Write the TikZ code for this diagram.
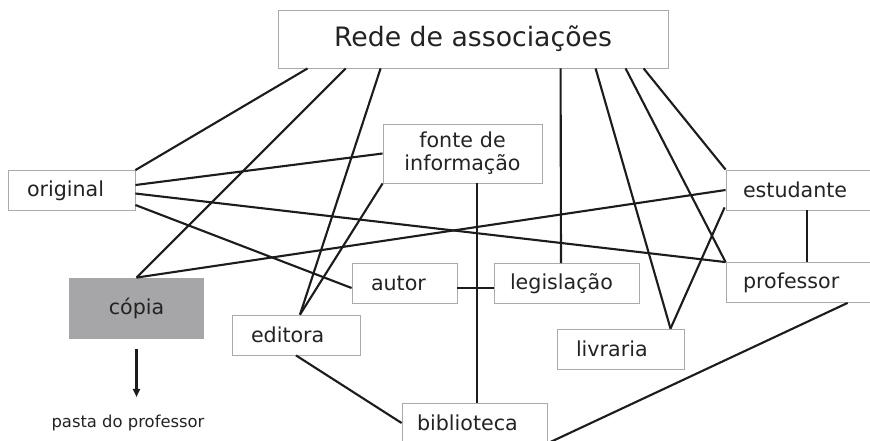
\documentclass[tikz,border=0pt]{standalone}
\usepackage{fontspec}
\setmainfont{DejaVu Sans}
\usepackage{tikz}
\usetikzlibrary{arrows.meta, calc}

\definecolor{boxgray}{RGB}{170,170,170}
\definecolor{linecol}{RGB}{28,28,28}
\definecolor{textcol}{RGB}{35,35,35}
\definecolor{copiafill}{RGB}{166,166,168}

\newcommand{\lblfont}{\fontsize{17.6}{19.6}\selectfont}
\newcommand{\titlefont}{\fontsize{22.8}{26}\selectfont}
\newcommand{\notefont}{\fontsize{14}{16}\selectfont}

\begin{document}
\begin{tikzpicture}[
    x=0.03cm, y=-0.03cm,
    box/.style={rectangle, draw=boxgray, line width=0.7pt, minimum height=1.2cm, inner ysep=0pt, font=\lblfont, text=textcol, align=left},
    lbox/.style 2 args={text width={(#1-2*#2)*0.03cm}, inner xsep={#2*0.03cm}}, % box width and left padding in px
    link/.style={line width=1.8pt, draw=linecol},
    arrow/.style={-{Triangle[length=7pt, width=6pt]}, line width=1.8pt, draw=linecol}
]
\useasboundingbox (0,0) rectangle (870,440);

% Top node
\node[box, minimum width=390*0.03cm, minimum height=58*0.03cm, font=\titlefont, align=center] (rede) at (473,39) {Rede de associações};

% Boxes
\node[box, lbox={159}{10}, minimum height=59*0.03cm, align=center] (fonte) at (462.5,153.5) {fonte de\\informação};
\node[box, lbox={127}{19}] (original) at (71.5,190.5) {original};
\node[box, lbox={154}{17}] (estudante) at (803,190) {estudante};
\node[box, lbox={105}{19}] (autor) at (404.5,283) {autor};
\node[box, lbox={145}{16}] (legislacao) at (566.5,283.5) {legislação};
\node[box, lbox={154}{17}] (professor) at (803,282.5) {professor};
\node[box, lbox={135}{10}, draw=none, fill=copiafill, minimum height=61*0.03cm, align=center] (copia) at (136.5,308.5) {cópia};
\node[box, lbox={128}{19}] (editora) at (296,335) {editora};
\node[box, lbox={127}{19}] (livraria) at (620.5,349) {livraria};
\node[box, lbox={145}{15}] (biblioteca) at (474.5,423) {biblioteca};

% Note under cópia
\node[font=\notefont, text=textcol, inner sep=0pt] (pasta) at (128,422.7) {pasta do professor};

% Links from the top node
\draw[link] ($(rede.south west)+(30,0)$) -- (original.north east);
\draw[link] ($(rede.south west)+(68,0)$) -- (copia.north);
\draw[link] ($(rede.south west)+(103,0)$) -- ($(editora.north)+(4,0)$);
\draw[link] ($(rede.south west)+(283,0)$) -- ($(legislacao.north)+(-5.5,0)$);
\draw[link] ($(rede.south west)+(318,0)$) -- ($(livraria.north)+(50,0)$);
\draw[link] ($(rede.south west)+(348,0)$) -- (professor.north west);
\draw[link] ($(rede.south west)+(366,0)$) -- (estudante.north west);

% Other links
\draw[link] ($(original.east)+(0,-5.5)$) -- (fonte.west);
\draw[link] ($(original.east)+(0,3)$) -- (professor.north west);
\draw[link] ($(original.east)+(0,14.5)$) -- ($(autor.west)+(0,5)$);
\draw[link] (fonte.south west) -- ($(editora.north)+(4,0)$);
\draw[link] ($(fonte.south)+(14.5,0)$) -- ($(biblioteca.north)+(2.5,0)$);
\draw[link] ($(autor.east)+(0,5)$) -- ($(legislacao.west)+(0,4.5)$);
\draw[link] (estudante.west) -- (copia.north);
\draw[link] ($(estudante.south west)+(81,0)$) -- ($(professor.north west)+(81,0)$);
\draw[link] ($(estudante.south west)+(-1,-3)$) -- ($(livraria.north)+(50,0)$);
\draw[link] (editora.south) -- (biblioteca.west);
\draw[link] ($(professor.south west)+(122,0)$) -- (biblioteca.south east);

% cópia goes to the folder
\draw[arrow, shorten <=0.3cm, shorten >=0.525cm] (copia.south) -- (copia.south |- pasta.north);

\end{tikzpicture}
\end{document}
